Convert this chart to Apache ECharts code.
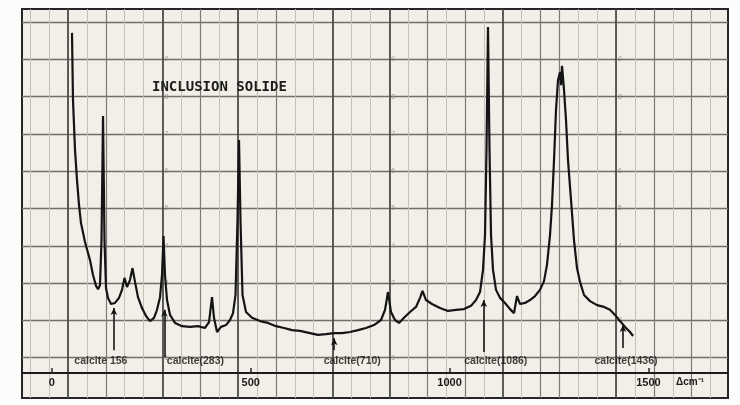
<!DOCTYPE html>
<html>
<head>
<meta charset="utf-8">
<script src="https://cdn.jsdelivr.net/npm/echarts@6/dist/echarts.min.js"></script>
<style>
  html, body { margin: 0; padding: 0; background: #fcfcfa; }
  #chart { width: 740px; height: 405px; }
</style>
</head>
<body>
<div id="chart"></div>
<script>
// Raman spectrum of a solid inclusion (relative intensity vs Raman shift, cm-1)
const wavenumber = [
  50.7, 53.2, 58.3, 63.3, 68.3, 73.3, 83.4, 96.0, 103.5, 111.1,
  116.1, 121.1, 124.9, 128.7, 132.4, 136.2, 141.2, 148.8, 158.8, 168.9,
  176.4, 182.7, 189.0, 196.5, 202.8, 209.1, 216.6, 226.7, 236.8, 246.8,
  256.9, 264.4, 272.0, 277.0, 280.8, 284.5, 289.6, 297.1, 309.7, 327.3,
  347.4, 367.5, 385.1, 395.2, 402.7, 407.7, 415.3, 425.3, 437.9, 448.0,
  455.5, 461.8, 466.8, 470.6, 474.3, 479.4, 488.2, 503.3, 523.4, 543.5,
  563.6, 583.7, 603.8, 623.9, 649.1, 669.2, 689.3, 709.4, 729.5, 749.7,
  769.8, 789.9, 810.0, 827.6, 837.7, 845.2, 852.7, 862.8, 872.9, 885.4,
  900.5, 915.6, 925.7, 931.9, 940.7, 955.8, 975.9, 996.0, 1016.2, 1036.3,
  1053.9, 1066.4, 1076.5, 1084.0, 1089.1, 1092.8, 1096.6, 1100.4, 1104.2, 1109.2,
  1116.7, 1126.8, 1139.4, 1151.9, 1162.0, 1169.5, 1177.1, 1189.6, 1202.2, 1214.8,
  1227.3, 1237.4, 1244.9, 1252.5, 1257.5, 1262.6, 1267.6, 1272.6, 1277.7, 1280.2,
  1282.7, 1287.7, 1292.7, 1297.7, 1305.3, 1312.8, 1320.4, 1327.9, 1338.0, 1353.1,
  1370.7, 1388.3, 1403.3, 1415.9, 1428.5, 1441.1, 1453.6, 1461.2
];
const intensity = [
  93.7, 75.2, 61.4, 53.2, 46.3, 41.3, 36.1, 31.1, 27.0, 24.0,
  23.1, 24.2, 36.6, 70.8, 36.6, 23.4, 20.7, 19.0, 19.3, 20.7,
  22.9, 26.2, 23.7, 25.6, 28.9, 25.1, 20.9, 17.9, 15.7, 14.3,
  15.2, 17.4, 20.9, 27.0, 37.7, 27.0, 20.1, 16.0, 13.8, 12.9,
  12.7, 12.9, 12.4, 14.0, 20.9, 15.2, 11.3, 12.7, 13.2, 14.6,
  16.5, 21.5, 42.1, 64.2, 42.1, 21.5, 16.8, 15.2, 14.3, 13.8,
  12.9, 12.4, 11.8, 11.6, 11.0, 10.5, 10.7, 11.0, 11.0, 11.3,
  11.8, 12.4, 13.2, 14.6, 17.4, 22.3, 16.8, 14.6, 13.8, 15.2,
  16.8, 18.2, 20.7, 22.6, 20.1, 19.0, 17.9, 17.1, 17.4, 17.6,
  18.5, 20.1, 22.3, 28.4, 38.0, 61.4, 95.3, 61.4, 38.0, 28.4,
  22.9, 20.7, 19.3, 17.6, 16.5, 21.2, 19.0, 19.3, 20.1, 21.2,
  22.9, 25.3, 29.8, 38.0, 46.3, 58.7, 72.5, 80.7, 82.9, 79.3,
  84.6, 78.0, 69.7, 58.7, 47.7, 36.6, 28.9, 25.1, 21.5, 19.8,
  18.7, 18.2, 17.4, 16.0, 14.3, 12.7, 11.3, 10.2
];
const tickValues = [0, 500, 1000, 1500];
const calciteBands = [156, 283, 710, 1086, 1436];
const calciteNames = ['calcite 156', 'calcite(283)', 'calcite(710)', 'calcite(1086)', 'calcite(1436)'];
const chartTitle = 'INCLUSION SOLIDE';
const unitText = 'Δcm⁻¹';

// --- annotation layout (arrow span in intensity units, label shift in px) ---
const arrowSpan = [[6.3, 17.9], [4.4, 17.4], [6.3, 9.6], [5.8, 20.1], [6.9, 13.2]];
const labelShift = [-13, 31, 18, 12, 3];
const labelLevel = 3.3;

// --- recorder paper ruling, in chart-division units ---
const range = (a, b) => { const r = []; for (let i = a; i <= b; i++) r.push(i); return r; };
const paperCols = range(-2, 34);
const mediumCols = [2, 7, 11, 19, 21, 25, 26, 31, 33];
const darkCols = [0, 5, 9, 14, 17, 23, 29];
const paperRows = range(0, 9);
const scaleCols = [5, 17, 29];

const paperX = { min: -2.434, max: 34.92 };
const paperY = { min: -0.35, max: 10.08 };

function paperXAxis(values, color, width) {
  return {
    type: 'value', gridIndex: 0, min: paperX.min, max: paperX.max,
    axisLine: { show: false }, axisLabel: { show: false },
    axisTick: { show: false, customValues: values },
    splitLine: { show: true, lineStyle: { color: color, width: width } }
  };
}

const chart = echarts.init(document.getElementById('chart'), null, { renderer: 'canvas' });

const spectrum = wavenumber.map((w, i) => [w, intensity[i]]);

const arrows = calciteBands.map((b, i) => [
  { coord: [b, arrowSpan[i][0]], symbol: 'none' },
  { coord: [b, arrowSpan[i][1]], symbol: 'arrow' }
]);

const bandLabels = calciteBands.map((b, i) => ({
  value: [b, labelLevel],
  label: { offset: [labelShift[i], 0] },
  name: calciteNames[i]
}));

const scaleMarks = [];
scaleCols.forEach(c => paperRows.slice(1).forEach(r => scaleMarks.push({ value: [c, r], name: String(10 - r) })));

chart.setOption({
  backgroundColor: '#fcfcfa',
  animation: false,
  grid: [
    { left: 22, top: 9, width: 706, height: 389, show: true, backgroundColor: '#f1efe7',
      borderColor: '#262626', borderWidth: 2, outerBoundsMode: 'none' },
    { left: 22, top: 10, width: 706, height: 363, outerBoundsMode: 'none' }
  ],
  xAxis: [
    paperXAxis(paperCols, '#c2c0b7', 1),
    paperXAxis(mediumCols, '#7d7b75', 1.2),
    paperXAxis(darkCols, '#3d3c39', 1.6),
    {
      type: 'value', gridIndex: 1, min: -75, max: 1700,
      axisLine: { show: true, lineStyle: { color: '#1c1c1c', width: 2 } },
      axisTick: { show: true, inside: true, length: 5, customValues: tickValues,
        lineStyle: { color: '#2a2a2a', width: 1.5 } },
      axisLabel: { customValues: tickValues, formatter: v => String(v),
        color: '#1a1a1a', fontSize: 11, fontWeight: 'bold',
        fontFamily: 'Liberation Sans', margin: 4 },
      splitLine: { show: false }
    }
  ],
  yAxis: [
    {
      type: 'value', gridIndex: 0, inverse: true, min: paperY.min, max: paperY.max,
      axisLine: { show: false }, axisLabel: { show: false },
      axisTick: { show: false, customValues: paperRows },
      splitLine: { show: true, lineStyle: { color: '#6f6e69', width: 1.3 } }
    },
    { type: 'value', gridIndex: 1, min: 0, max: 100, show: false }
  ],
  series: [
    {
      type: 'scatter', xAxisIndex: 0, yAxisIndex: 0, symbolSize: 0, silent: true,
      data: scaleMarks,
      label: { show: true, formatter: p => p.name, position: 'right', distance: 2,
        fontSize: 7, color: '#8e8c85', fontFamily: 'Liberation Sans' }
    },
    {
      type: 'line', xAxisIndex: 3, yAxisIndex: 1, data: spectrum,
      showSymbol: false, smooth: false, z: 5,
      lineStyle: { color: '#141414', width: 2.2 },
      markLine: {
        silent: true, symbolSize: [5, 7],
        lineStyle: { color: '#151515', width: 1.6, type: 'solid' },
        label: { show: false },
        data: arrows
      }
    },
    {
      type: 'scatter', xAxisIndex: 3, yAxisIndex: 1, symbolSize: 0, silent: true, z: 6,
      data: bandLabels,
      itemStyle: { color: 'transparent' },
      label: { show: true, position: 'inside', formatter: p => p.name,
        fontSize: 10.5, fontWeight: 'bold', color: '#111111', fontFamily: 'Liberation Sans',
        textBorderWidth: 0, textBorderColor: 'transparent' }
    }
  ],
  graphic: [
    { type: 'text', left: 152, top: 80, z: 10,
      style: { text: chartTitle, font: 'bold 14px "DejaVu Sans Mono"', fill: '#1b1b1b' } },
    { type: 'text', left: 676, top: 377, z: 10,
      style: { text: unitText, font: 'bold 10px "Liberation Sans"', fill: '#1a1a1a' } }
  ]
});
</script>
</body>
</html>
